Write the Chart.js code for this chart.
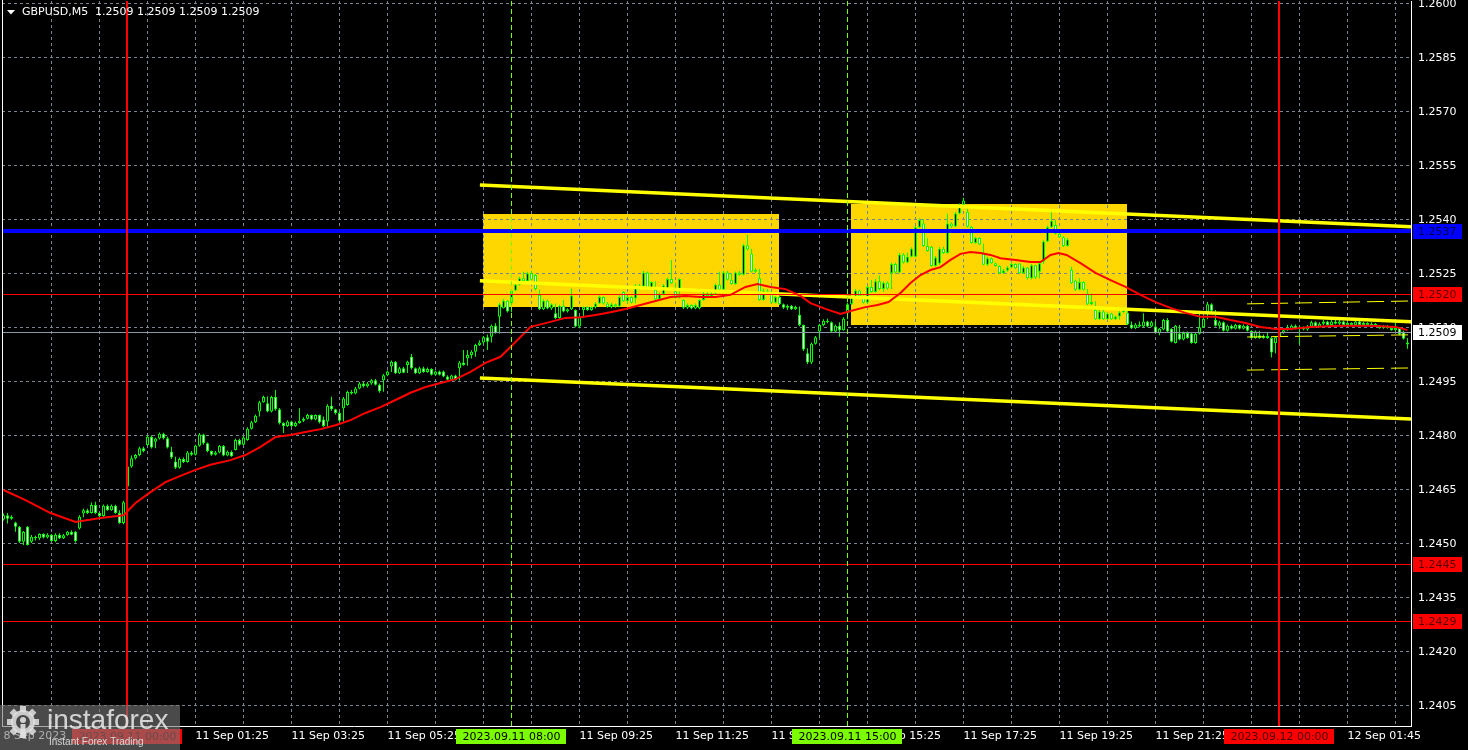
<!DOCTYPE html>
<html><head><meta charset="utf-8">
<script src="https://cdn.jsdelivr.net/npm/chart.js@4.4.0/dist/chart.umd.min.js"></script>
<style>html,body{margin:0;padding:0;background:#000;overflow:hidden}canvas{display:block}</style>
</head><body>
<canvas id="c" width="1468" height="750"></canvas>
<script>
// Prices are stored in pips above 1.2400 (price = 1.2400 + v * 0.0001); x = 5-minute candle index
const BASE = 1.24, PIP = 0.0001;
const symbolTitle = 'GBPUSD,M5';
const titleQuote = '1.2509 1.2509 1.2509 1.2509';

const opens = [56.8,58.0,57.0,56.0,54.8,50.6,54.8,50.6,52.0,51.6,
52.8,51.8,52.6,50.8,52.6,51.6,52.4,53.4,53.4,54.3,
58.5,59.4,58.6,60.8,58.6,57.8,60.6,59.4,60.6,58.6,
55.8,66.0,71.5,73.8,74.7,76.6,77.5,79.8,78.4,79.3,
80.6,79.4,75.6,72.9,71.2,73.6,72.8,75.4,74.8,77.3,
80.4,78.0,75.8,74.8,75.4,77.2,74.6,75.6,76.1,78.9,
77.6,78.9,82.0,83.8,86.8,89.4,89.1,86.8,90.8,87.4,
83.6,82.8,84.0,82.8,83.6,84.2,84.8,85.8,84.6,85.8,
84.6,84.0,88.4,87.4,86.4,87.7,88.6,92.2,91.8,93.2,
94.6,93.8,94.6,95.5,94.2,95.5,96.9,99.3,100.6,97.4,
98.8,99.7,102.0,98.8,97.4,98.8,97.8,98.6,97.0,97.9,
97.9,96.5,95.6,96.8,98.8,100.4,101.6,102.5,103.4,105.3,
106.0,107.4,107.6,110.6,113.1,115.5,117.6,116.9,120.4,122.0,
123.8,123.0,125.2,124.7,119.2,115.2,117.6,115.4,114.1,112.8,
116.2,114.6,115.2,115.0,110.4,115.0,115.8,115.0,115.8,116.8,
118.6,116.8,115.8,116.6,116.0,120.0,117.4,118.6,118.2,121.8,
121.5,125.4,121.0,120.6,118.0,119.4,120.8,123.6,120.2,120.6,
117.8,115.6,116.4,115.4,115.5,117.8,119.6,118.8,119.6,122.0,
120.6,125.4,123.4,122.2,125.4,124.8,133.0,130.7,125.6,123.8,
117.8,120.4,120.1,117.0,118.6,116.6,115.6,116.2,115.2,113.6,
110.8,103.0,100.4,105.6,109.0,110.8,112.0,111.6,109.0,110.6,
109.4,114.1,116.6,118.6,120.4,118.8,117.0,121.4,120.0,123.0,
120.8,122.6,125.2,127.8,125.4,130.4,128.2,129.8,129.8,138.0,
139.0,132.8,132.6,127.2,127.9,132.0,130.8,139.0,138.2,141.8,
144.2,142.3,138.1,133.6,135.0,130.7,127.6,129.4,128.0,127.2,
125.2,126.0,126.8,127.8,127.9,125.2,126.8,123.8,127.4,125.6,
128.4,134.0,138.0,138.6,136.2,135.2,132.8,126.2,123.2,120.6,
122.8,119.6,116.6,115.0,112.4,114.6,112.4,114.0,112.4,113.2,
114.4,114.2,111.0,109.9,111.0,110.4,111.8,110.4,110.4,108.6,
109.6,112.2,109.8,105.8,108.5,106.8,108.6,108.5,105.8,108.4,
110.2,114.5,116.6,112.2,110.6,111.6,109.2,110.6,109.8,110.8,
109.8,110.6,109.2,107.2,108.0,107.2,107.8,107.2,105.8,107.4,
108.6,109.4,109.6,110.6,109.8,110.2,109.6,110.4,111.6,110.4,
111.2,111.8,110.8,111.8,111.2,111.8,110.8,111.4,110.8,111.8,
110.8,111.4,110.8,111.2,110.6,110.0,110.6,110.0,109.4,110.0,
108.9,106.0];

const highs = [58.5,58.6,58.0,56.2,55.0,53.6,55.0,52.5,52.3,53.0,
53.0,53.0,52.8,53.0,53.0,52.8,53.6,53.8,53.6,58.0,
59.8,59.8,61.5,61.7,58.8,61.0,61.0,61.0,60.9,59.4,
62.0,72.0,74.6,75.0,77.0,77.0,80.2,80.2,79.5,81.0,
80.9,79.8,77.0,74.2,74.0,74.0,75.8,75.8,77.6,80.8,
80.6,78.2,76.0,75.8,77.5,77.5,76.0,76.0,79.2,79.2,
80.0,82.4,84.2,86.0,89.8,91.2,91.0,91.2,92.8,87.8,
83.8,84.4,84.2,84.0,87.7,85.2,86.2,86.0,86.0,86.0,
85.4,88.8,90.9,87.6,86.8,90.8,92.6,92.8,93.6,95.0,
95.0,95.0,95.8,95.8,94.6,97.2,98.2,101.0,100.8,99.2,
99.2,100.9,102.8,99.0,99.2,99.2,99.0,98.8,98.2,98.2,
98.2,96.9,97.0,97.0,100.8,103.9,103.9,103.8,105.6,106.6,
107.8,108.2,111.0,111.3,117.0,118.0,117.8,120.8,122.4,124.2,
125.6,125.6,125.8,125.0,120.6,118.0,117.9,116.9,116.8,116.5,
117.8,115.5,121.0,115.2,113.4,116.0,116.0,116.0,117.2,119.0,
118.8,117.2,117.0,116.8,119.0,120.2,119.0,118.8,122.2,122.2,
125.8,125.6,123.0,123.0,119.8,122.2,124.0,128.9,122.6,123.8,
118.0,116.8,116.6,116.8,118.0,120.0,120.0,120.0,122.3,125.6,
125.8,125.8,125.2,125.7,125.8,133.4,135.8,132.0,126.6,126.4,
121.0,120.8,120.3,118.9,118.8,116.8,116.5,116.4,116.2,116.0,
111.0,104.4,106.0,107.8,111.2,112.4,112.6,111.8,111.0,111.6,
113.0,117.0,119.0,120.8,120.6,119.0,121.8,123.3,123.6,124.6,
123.0,123.0,128.2,128.2,130.8,130.8,131.0,132.4,138.4,140.4,
140.2,134.9,132.8,130.0,132.4,132.6,141.8,139.4,142.2,144.6,
146.2,143.2,138.3,135.3,135.2,133.4,129.8,129.6,128.2,127.4,
126.4,127.2,128.2,128.0,128.0,127.2,127.0,127.8,127.6,128.3,
134.4,138.4,142.3,140.0,136.4,135.5,135.0,127.0,123.4,123.8,
123.0,120.8,119.6,117.4,115.0,115.4,114.4,114.2,113.5,114.8,
115.6,115.2,111.8,111.4,111.8,114.1,112.0,112.0,111.8,110.0,
112.5,112.8,109.9,110.8,110.8,109.0,109.0,108.6,108.8,114.1,
113.0,117.2,116.9,115.0,112.0,111.8,111.0,111.0,111.2,111.0,
111.0,110.8,109.4,109.3,109.2,108.2,108.6,107.4,107.8,109.0,
109.8,110.8,111.0,111.0,110.6,110.4,110.8,112.0,111.8,111.6,
112.2,112.0,112.2,112.2,112.2,112.0,111.8,111.6,112.2,112.0,
111.7,111.6,111.6,111.4,110.8,110.8,110.8,110.2,112.0,110.2,
109.2,107.2];

const lows = [56.5,55.7,56.7,53.4,50.3,49.7,49.6,50.3,51.0,51.1,
51.5,51.5,50.6,50.5,51.4,51.4,52.3,52.4,50.4,54.0,
57.4,58.3,58.5,58.3,57.4,57.6,59.2,59.2,58.4,55.6,
55.5,65.8,71.2,73.5,74.4,75.5,77.3,76.5,76.6,79.0,
79.0,76.5,73.6,70.8,71.0,72.5,72.6,74.5,74.6,77.0,
77.6,75.5,74.5,74.6,75.2,74.4,74.4,74.2,76.0,77.3,
77.5,78.7,81.8,83.6,85.4,89.2,86.6,86.5,87.0,83.2,
80.8,82.5,82.5,82.5,83.4,83.9,84.6,84.4,84.4,83.5,
82.5,82.6,87.0,86.0,84.0,84.0,88.4,91.5,91.6,93.0,
93.5,93.5,94.2,94.0,92.0,92.3,96.6,97.8,97.2,97.2,
97.4,97.5,98.5,97.2,97.2,97.6,97.6,96.8,96.8,96.8,
96.3,95.4,95.4,95.4,95.4,99.5,99.5,101.5,102.0,105.0,
105.6,103.9,106.0,108.4,108.4,115.4,114.3,114.4,120.2,121.8,
122.6,122.8,123.2,120.5,115.0,115.0,115.2,115.0,112.5,112.6,
114.4,114.3,115.0,110.2,109.9,112.8,114.8,114.8,115.4,116.6,
116.5,115.6,115.5,115.6,115.8,117.2,116.8,116.8,116.8,120.6,
120.8,120.5,120.8,117.8,117.8,119.2,120.5,122.2,118.2,118.2,
115.3,115.3,115.2,115.2,115.2,117.6,118.6,118.6,119.4,120.4,
120.4,123.2,122.0,122.0,124.5,124.6,131.5,125.4,125.3,117.6,
117.6,119.8,116.8,116.8,116.4,115.3,115.0,115.0,115.0,110.5,
103.6,100.0,100.0,105.4,107.2,110.5,111.3,108.8,108.8,107.6,
109.2,112.4,116.4,118.4,118.6,116.8,116.8,119.8,119.8,120.5,
120.0,120.6,120.8,125.0,125.2,127.9,128.0,129.6,129.6,137.8,
132.5,131.2,127.0,127.0,127.6,130.5,130.6,137.8,138.0,141.6,
144.0,137.9,133.4,133.4,133.0,127.4,127.2,127.8,127.0,125.0,
125.0,125.6,126.6,126.3,125.0,125.0,123.5,123.5,123.6,123.8,
127.8,133.8,137.8,136.0,135.0,132.5,132.6,122.2,120.3,120.4,
120.4,116.4,116.3,112.2,112.2,112.2,112.2,112.2,112.2,112.3,
114.2,110.8,109.7,109.7,110.2,110.2,110.2,110.2,108.4,108.0,
109.4,108.8,106.0,105.7,106.6,106.6,107.0,105.6,105.6,108.2,
110.0,112.4,114.5,110.4,109.8,109.0,109.0,109.6,109.6,109.6,
109.6,109.0,107.0,107.0,107.0,107.0,107.0,101.8,103.0,107.2,
108.4,109.2,109.4,109.6,105.4,109.4,109.2,110.2,110.2,110.2,
110.8,110.6,110.6,111.0,110.6,110.6,110.6,110.6,110.6,110.6,
110.6,110.6,110.6,110.4,109.8,109.8,109.8,109.2,109.0,108.0,
106.8,104.2];

const closes = [58.0,57.0,57.6,54.8,50.6,53.4,49.7,52.0,51.6,52.8,
51.8,52.6,50.8,52.6,51.6,52.4,53.4,52.6,50.8,57.6,
59.4,58.6,60.8,58.6,57.8,60.6,59.4,60.6,58.6,55.8,
61.6,71.5,73.8,74.7,76.6,75.8,79.8,76.8,79.3,80.6,
79.4,76.8,74.0,71.2,73.6,72.8,75.4,74.8,77.3,80.4,
78.0,75.8,74.8,75.4,77.2,74.6,75.6,74.4,78.9,77.6,
79.6,82.0,83.8,85.6,89.4,90.8,86.8,90.8,87.4,83.6,
82.8,84.0,82.8,83.6,84.2,84.8,85.8,84.6,85.8,83.8,
82.8,88.4,87.4,86.4,84.2,90.4,92.2,91.8,93.2,94.6,
93.8,94.6,95.5,94.2,92.4,96.9,97.9,100.6,97.4,98.8,
97.6,100.6,98.8,97.4,98.8,97.8,98.6,97.0,97.9,97.0,
96.5,95.6,96.8,95.6,100.4,99.7,102.5,103.4,105.3,106.0,
107.4,106.2,110.6,108.6,116.6,117.6,114.6,120.4,122.0,123.8,
123.0,125.2,123.4,120.8,115.2,117.6,115.4,116.6,112.8,116.2,
114.6,115.2,119.0,110.4,113.0,115.8,115.0,115.8,116.8,118.6,
116.8,115.8,116.6,116.0,118.6,117.4,118.6,117.0,121.8,121.0,
125.4,121.0,122.8,118.0,119.4,121.8,123.6,122.4,118.3,123.6,
115.6,116.4,115.4,116.4,117.8,119.6,118.8,119.6,122.0,120.6,
125.4,123.4,122.2,125.4,124.8,133.0,131.8,125.6,126.2,117.8,
120.4,120.1,117.0,118.6,116.6,115.6,116.2,115.2,115.8,110.8,
104.0,100.4,105.6,107.4,110.8,112.0,111.6,109.0,110.6,109.4,
112.6,116.6,118.6,120.4,118.8,117.0,121.4,120.0,123.0,120.8,
122.6,121.0,127.8,125.4,130.4,128.2,129.8,132.0,138.0,140.0,
132.8,131.4,127.2,129.6,132.0,130.8,139.0,138.2,141.8,144.2,
145.4,138.1,133.6,135.0,133.2,127.6,129.4,128.0,127.2,125.2,
126.0,126.8,127.8,126.6,125.2,126.8,123.8,127.4,124.0,128.0,
134.0,138.0,139.8,136.2,135.2,132.8,134.6,122.4,120.6,122.8,
120.6,116.6,117.2,112.4,114.6,112.4,114.0,112.4,113.2,114.4,
115.0,111.0,109.9,111.0,110.4,111.8,110.4,111.6,108.6,109.8,
112.2,109.0,106.2,110.6,106.8,108.6,107.2,105.8,108.4,110.2,
112.6,116.6,114.8,110.6,111.6,109.2,110.6,109.8,110.8,109.8,
110.6,109.2,107.2,109.0,107.2,107.8,107.2,103.2,107.4,108.6,
109.4,109.6,110.6,109.8,110.2,109.6,110.4,111.6,110.4,111.2,
111.8,110.8,111.8,111.2,111.8,110.8,111.4,110.8,111.8,110.8,
111.4,110.8,111.2,110.6,110.0,110.6,110.0,109.4,110.0,108.2,
107.0,105.4];

// moving average (candle index, pips)
const maIdx = [0,5.5,11.75,18,24.25,30,33,36.75,40.5,44.25,48,51.75,56.75,60.5,64.25,68,71.75,75.5,79.25,83,86.75,90.5,94.25,98,101.75,105.5,109.25,113,116.75,120.5,124.25,126.75,129.25,131.75,133.5,136.75,140.5,144.25,148,151.75,155.5,159.25,163,166.75,170.5,174.25,178,181.75,185.5,188.5,191.75,195.5,199.25,201.75,205.5,209.25,211.75,215.5,218.5,221.25,224.25,226.75,229.25,231.75,234.25,236.75,239.25,241.75,244.25,246.75,249.25,253,256.75,259.25,261.75,263.75,265.75,269.25,273,276.75,280.5,284.25,288,291.75,295.5,299.25,303,306.75,310.5,314.25,318,321.75,326.75,334.25,341.75,348,351];
const maVal = [65,62.2,58.6,56.1,57.2,58,61.4,64.4,67.2,68.9,70.6,72,73.3,74.7,77,79.7,80.3,81.1,81.9,83,84.4,86.4,88,90,92,93.6,94.7,95.8,97.8,100.3,102,104.7,107.5,110.3,110.8,111.7,112.8,113,113.6,114.4,115.3,116.4,117.5,118.6,118.9,118.6,118.6,119.2,121.4,122.2,121.4,120.8,118.9,116.9,115.3,113.9,114.7,115.8,116.4,117.2,119.7,122.5,124.7,126.1,126.9,128.9,130.6,131.1,130.8,130.3,129.4,128.9,128.3,128.3,130.3,130.8,130.3,128,125.3,123.3,121.4,119.2,117.2,115.6,114.2,113.1,113.1,112.2,111.4,110.3,109.7,109.7,110.3,110.6,110.6,110.3,109.4];

// trend channel (two anchor points)
const channelIdx = [119.1, 352];
const channelUpper = [149.7, 138.1];
const channelMid = [123.1, 111.7];
const channelLower = [96.1, 84.7];
// deviation channel since midnight
const devIdx = [310.9, 352];
const devUpper = [116.7, 117.5];
const devMid = [107.5, 108.1];
const devLower = [98.3, 98.9];

// rectangles
const boxStart = [119.9, 211.9];
const boxEnd = [193.9, 280.9];
const boxTop = [141.7, 144.4];
const boxBottom = [115.8, 110.8];

// horizontal levels
const levelVals = [136.9, 119.4, 44.4, 28.6];
const levelLabels = ['1.2537', '1.2520', '1.2445', '1.2429'];
const bidVal = 108.9;
const bidLabel = '1.2509';

// vertical markers
const dayLineIdx = [31, 319];
const dayLineLabels = ['2023.09.11 00:00', '2023.09.12 00:00'];
const sessionIdx = [127, 211];
const sessionLabels = ['2023.09.11 08:00', '2023.09.11 15:00'];

// axes
const yTicks = [5,20,35,50,65,80,95,110,125,140,155,170,185,200];
const xTickIdx = [0,12,24,36,48,60,72,84,96,108,120,132,144,156,168,180,192,204,216,228,240,252,264,276,288,300,312,324,336,348];
const xTickText = {0:'8 Sep 2023',24:'11 Sep 00:00',48:'11 Sep 01:25',72:'11 Sep 03:25',96:'11 Sep 05:25',120:'11 Sep 07:25',144:'11 Sep 09:25',168:'11 Sep 11:25',192:'11 Sep 13:25',216:'11 Sep 15:25',240:'11 Sep 17:25',264:'11 Sep 19:25',288:'11 Sep 21:25',312:'11 Sep 23:25',336:'12 Sep 01:45'};

// ---------- styles ----------
const FONT = '"DejaVu Sans", Verdana, sans-serif';
const GRID = '#7b8591';
const LIME = '#00ff00';
const levelStyle = [
  {color:'#0000ff', width:4, text:'#000050'},
  {color:'#ff0000', width:1, text:'#5a0000'},
  {color:'#ff0000', width:1, text:'#5a0000'},
  {color:'#ff0000', width:1, text:'#5a0000'}
];

const fmt = v => (BASE + v * PIP).toFixed(4);

const wickData = highs.map((h, i) => ({x: i, y: [lows[i], h]}));
const bodyData = opens.map((o, i) => ({x: i, y: [Math.min(o, closes[i]), Math.max(o, closes[i])]}));
const pts = (xs, ys) => xs.map((x, k) => ({x, y: ys[k]}));

const mt4 = {
  id: 'mt4',
  beforeDraw(chart) {
    const {ctx, scales: {x, y}} = chart;
    ctx.save();
    ctx.fillStyle = '#000';
    ctx.fillRect(0, 0, chart.width, chart.height);
    ctx.fillStyle = '#ffd700';
    for (let k = 0; k < boxStart.length; k++) {
      const x1 = Math.round(x.getPixelForValue(boxStart[k])), x2 = Math.round(x.getPixelForValue(boxEnd[k]));
      const y1 = Math.round(y.getPixelForValue(boxTop[k])), y2 = Math.round(y.getPixelForValue(boxBottom[k]));
      ctx.fillRect(x1, y1, x2 - x1, y2 - y1);
    }
    ctx.restore();
  },
  afterDatasetsDraw(chart) {
    const {ctx, chartArea: ca, scales: {x, y}} = chart;
    ctx.save();
    ctx.beginPath(); ctx.rect(ca.left, ca.top, ca.right - ca.left, ca.bottom - ca.top); ctx.clip();
    // bid line
    ctx.fillStyle = '#8c97a6';
    ctx.fillRect(ca.left, Math.round(y.getPixelForValue(bidVal)), ca.right - ca.left, 1);
    // horizontal levels
    levelVals.forEach((v, k) => {
      const st = levelStyle[k];
      const yy = y.getPixelForValue(v);
      ctx.fillStyle = st.color;
      ctx.fillRect(ca.left, Math.round(yy - st.width / 2), ca.right - ca.left, st.width);
    });
    // session lines (dashed lime)
    ctx.strokeStyle = '#7cfc00'; ctx.lineWidth = 1; ctx.setLineDash([5, 3]);
    sessionIdx.forEach(i => {
      const xx = Math.floor(x.getPixelForValue(i)) + 0.5;
      ctx.beginPath(); ctx.moveTo(xx, ca.top); ctx.lineTo(xx, ca.bottom); ctx.stroke();
    });
    ctx.setLineDash([]);
    // day separators (red)
    ctx.fillStyle = '#ff0000';
    dayLineIdx.forEach(i => {
      const xx = Math.floor(x.getPixelForValue(i));
      ctx.fillRect(xx - 1, ca.top, 2, ca.bottom - ca.top);
    });
    ctx.restore();
  },
  afterDraw(chart) {
    const {ctx, chartArea: ca, scales: {x, y}} = chart;
    ctx.save();
    // left frame
    ctx.fillStyle = '#ffffff';
    ctx.fillRect(2, 0, 1, ca.bottom);
    ctx.font = '11px ' + FONT;
    ctx.textBaseline = 'middle';
    // price boxes
    const priceBox = (v, label, bg, fg) => {
      const yy = Math.round(y.getPixelForValue(v));
      ctx.fillStyle = bg;
      ctx.fillRect(ca.right + 2, yy - 7, 49, 15);
      ctx.fillStyle = fg; ctx.textAlign = 'left';
      ctx.fillText(label, ca.right + 7, yy + 1);
    };
    levelVals.forEach((v, k) => priceBox(v, levelLabels[k], levelStyle[k].color, levelStyle[k].text));
    priceBox(bidVal, bidLabel, '#ffffff', '#000000');
    // time boxes
    const timeBox = (i, label, bg, fg) => {
      const xx = x.getPixelForValue(i);
      const w = ctx.measureText(label).width + 12;
      ctx.fillStyle = bg;
      ctx.fillRect(Math.round(xx - w / 2), 729, Math.round(w), 15);
      ctx.fillStyle = fg; ctx.textAlign = 'center';
      ctx.fillText(label, xx, 737);
    };
    dayLineIdx.forEach((i, k) => timeBox(i, dayLineLabels[k], '#ff0000', '#4a0000'));
    sessionIdx.forEach((i, k) => timeBox(i, sessionLabels[k], '#7cfc00', '#000000'));
    // title
    ctx.fillStyle = '#ffffff';
    ctx.beginPath(); ctx.moveTo(7, 10); ctx.lineTo(15, 10); ctx.lineTo(11, 14.5); ctx.closePath(); ctx.fill();
    ctx.textAlign = 'left';
    ctx.fillText(symbolTitle, 22, 12);
    ctx.fillText(titleQuote, 95, 12);
    // logo
    ctx.fillStyle = 'rgba(120,120,120,0.62)';
    ctx.fillRect(0, 705, 180, 45);
    const cx = 23, cy = 722;
    ctx.fillStyle = 'rgba(225,225,225,0.85)';
    for (let k = 0; k < 8; k++) {
      const a = k * Math.PI / 4;
      ctx.save(); ctx.translate(cx, cy); ctx.rotate(a);
      ctx.fillRect(-3, -16, 6, 6);
      ctx.restore();
    }
    ctx.beginPath(); ctx.arc(cx, cy, 12, 0, Math.PI * 2); ctx.fill();
    ctx.fillStyle = 'rgba(72,72,72,1)';
    ctx.beginPath(); ctx.arc(cx, cy, 7, 0, Math.PI * 2); ctx.fill();
    ctx.fillStyle = 'rgba(225,225,225,0.9)';
    ctx.beginPath(); ctx.arc(cx, cy - 2, 3, 0, Math.PI * 2); ctx.fill();
    ctx.fillRect(cx - 2.5, cy + 2, 5, 14);
    ctx.font = '28px "Liberation Sans", Arial, sans-serif';
    ctx.fillStyle = 'rgba(235,235,235,0.85)';
    ctx.textBaseline = 'alphabetic';
    ctx.fillText('instaforex', 47, 729);
    ctx.font = '10px "Liberation Sans", Arial, sans-serif';
    ctx.fillText('Instant Forex Trading', 49, 745);
    ctx.restore();
  }
};

Chart.defaults.font.family = FONT;
Chart.defaults.font.size = 11;
Chart.defaults.color = '#ffffff';

new Chart(document.getElementById('c'), {
  type: 'bar',
  data: {
    datasets: [
      {type: 'bar', data: wickData, backgroundColor: LIME, barThickness: 1, grouped: false, order: 20, borderWidth: 0, inflateAmount: 0, minBarLength: 1},
      {type: 'bar', data: bodyData, grouped: false, order: 10, barThickness: 3, borderWidth: 1, borderSkipped: false, inflateAmount: 0, minBarLength: 1,
        borderColor: LIME,
        backgroundColor: ctx => closes[ctx.dataIndex] >= opens[ctx.dataIndex] ? '#000000' : '#ffffff'},
      {type: 'line', data: pts(channelIdx, channelUpper), borderColor: '#ffff00', borderWidth: 3.5, pointRadius: 0, order: 3},
      {type: 'line', data: pts(channelIdx, channelMid), borderColor: '#ffff00', borderWidth: 3.5, pointRadius: 0, order: 3},
      {type: 'line', data: pts(channelIdx, channelLower), borderColor: '#ffff00', borderWidth: 3.5, pointRadius: 0, order: 3},
      {type: 'line', data: pts(devIdx, devUpper), borderColor: '#ffff00', borderWidth: 1, borderDash: [17, 7], pointRadius: 0, order: 3},
      {type: 'line', data: pts(devIdx, devMid), borderColor: '#ffff00', borderWidth: 1, borderDash: [17, 7], pointRadius: 0, order: 3},
      {type: 'line', data: pts(devIdx, devLower), borderColor: '#ffff00', borderWidth: 1, borderDash: [17, 7], pointRadius: 0, order: 3},
      {type: 'line', data: pts(maIdx, maVal), borderColor: '#ff0000', borderWidth: 2, pointRadius: 0, tension: 0, order: 1}
    ]
  },
  options: {
    responsive: false,
    animation: false,
    devicePixelRatio: 1,
    events: [],
    layout: {padding: {left: 2, top: 1, right: 0, bottom: 0}},
    plugins: {legend: {display: false}, tooltip: {enabled: false}},
    scales: {
      x: {
        type: 'linear', min: -0.375, max: 351.875, offset: false,
        grid: {offset: false, drawTicks: false, lineWidth: 1,
          color: c => (c.tick && c.tick.value === 0) ? 'rgba(0,0,0,0)' : GRID},
        border: {display: true, color: '#ffffff', width: 1, dash: [3, 3]},
        ticks: {color: '#ffffff', align: 'start', padding: 4, autoSkip: false, maxRotation: 0, minRotation: 0,
          callback: v => xTickText[v] || ''},
        afterBuildTicks: s => { s.ticks = xTickIdx.map(v => ({value: v})); },
        afterFit: s => { s.height = 24; s.paddingLeft = 0; s.paddingRight = 0; }
      },
      y: {
        type: 'linear', position: 'right', min: -0.56, max: 200.83,
        grid: {drawTicks: false, color: GRID, lineWidth: 1},
        border: {display: true, color: '#ffffff', width: 1, dash: [3, 3]},
        ticks: {color: '#ffffff', padding: 7, callback: v => fmt(v)},
        afterBuildTicks: s => { s.ticks = yTicks.map(v => ({value: v})); },
        afterFit: s => { s.width = 57; s.paddingTop = 0; s.paddingBottom = 0; }
      }
    }
  },
  plugins: [mt4]
});
</script>
</body></html>
